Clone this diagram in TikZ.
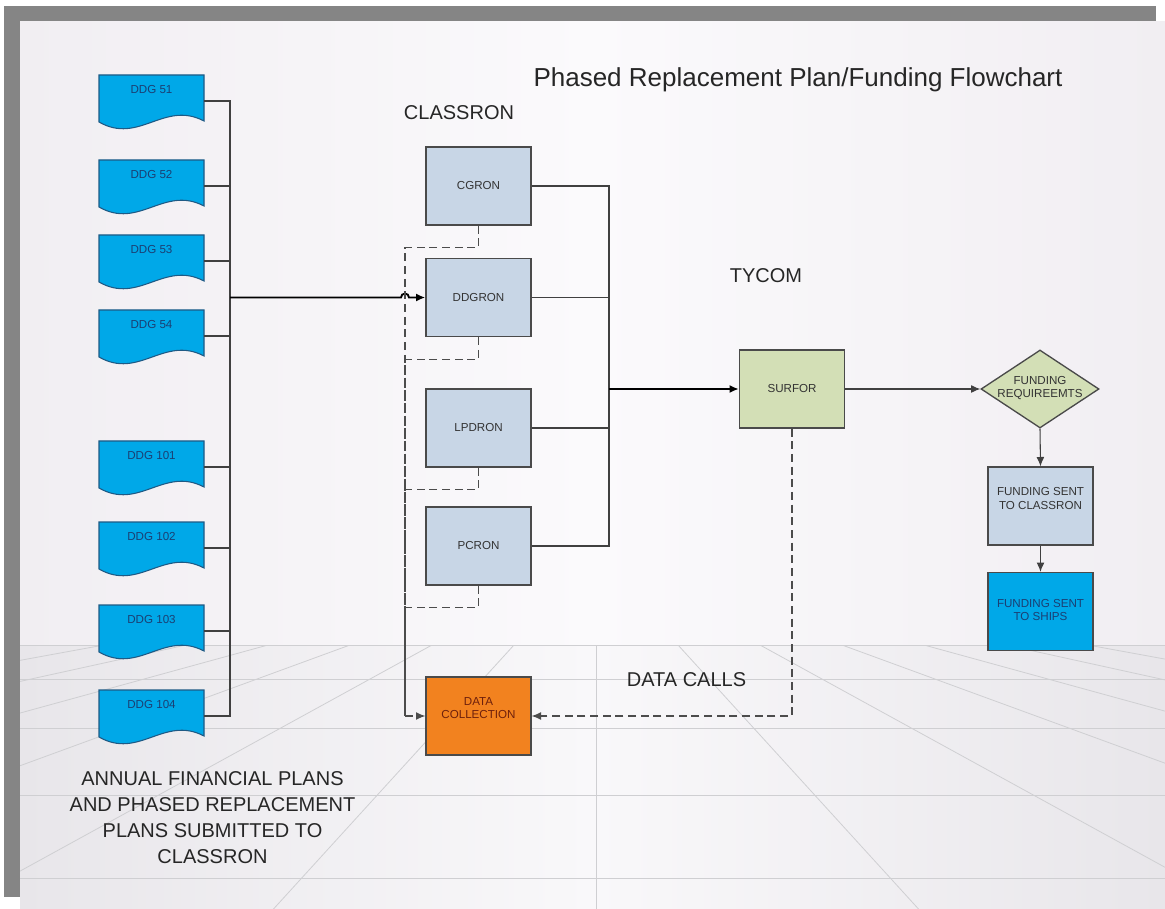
\documentclass[tikz,border=0pt]{standalone}
\usepackage{fontspec}
\setmainfont{Liberation Sans}
\usetikzlibrary{shapes.geometric,arrows.meta}
\def\px{0.75pt}
\definecolor{framecol}{HTML}{858585}
\definecolor{docblue}{HTML}{00A8E8}
\definecolor{docline}{HTML}{1E5A85}
\definecolor{navy}{HTML}{1B3F73}
\definecolor{ronfill}{HTML}{C8D6E6}
\definecolor{grnfill}{HTML}{D3DFB6}
\definecolor{orng}{HTML}{F2821F}
\definecolor{dcbrown}{HTML}{6E200C}
\definecolor{edgecol}{HTML}{4A4A4A}
\definecolor{txtcol}{HTML}{333333}
\definecolor{gridcol}{HTML}{CFCFD2}
\definecolor{bgside}{HTML}{F1EEF2}
\definecolor{bgmid}{HTML}{FBFAFC}
\definecolor{flside}{HTML}{E8E6EA}
\definecolor{flmid}{HTML}{F9F8FA}
\begin{document}
\begin{tikzpicture}[x=0.75pt,y=-0.75pt,
  smallfont/.style={font=\fontsize{8.7pt}{10.4pt}\selectfont},
  box/.style={draw=edgecol, line width=1pt, minimum width=105*\px, minimum height=78*\px, inner sep=0pt, smallfont, text=txtcol, align=center},
  ronbox/.style={box, fill=ronfill},
  grnbox/.style={box, fill=grnfill},
  docbody/.style={fill=docblue, draw=docline, line width=0.8pt},
  docanchor/.style={minimum width=105*\px, minimum height=52*\px, inner sep=0pt},
  doclbl/.style={smallfont, text=navy},
  conn/.style={draw=black!75, line width=0.8pt},
  trunk/.style={draw=black, line width=1.4pt},
  dconn/.style={draw=black!70, line width=0.9pt, dash pattern=on 6pt off 3.5pt},
  arr/.style={-{Latex[length=7pt,width=6pt]}},
  bigfont/.style={font=\fontsize{15pt}{19.5pt}\selectfont, text=black!85},
]
\useasboundingbox (0,0) rectangle (1165,909);
% background
\fill[white] (0,0) rectangle (1165,909);
\fill[framecol] (4,6) rectangle (1156,22);
\fill[framecol] (4,6) rectangle (20,897);
\shade[left color=bgside, right color=bgside, middle color=bgmid] (20,22) rectangle (1165,645);
\shade[left color=flside, right color=flside, middle color=flmid] (20,645) rectangle (1165,909);
\begin{scope}
  \clip (20,645) rectangle (1165,909);
  \foreach \k in {-7,...,7} \draw[gridcol, line width=0.6pt] ({596+82*\k},645) -- ({596+322.5*\k},909);
  \foreach \yy in {645,679,728,795,878} \draw[gridcol, line width=0.6pt] (20,\yy) -- (1165,\yy);
\end{scope}
% documents
\foreach \n/\t in {51/75,52/160,53/235,54/310,101/441,102/522,103/605,104/690}{
  \path[docbody] (99,\t) -- (204,\t) -- (204,\t+46) .. controls (164,\t+25) and (139,\t+70) .. (99,\t+47) -- cycle;
  \node[docanchor] (d\n) at (151.5,\t+26) {};
  \node[doclbl] (l\n) at (151.5,\t+15) {DDG \n};
}
% boxes
\node[ronbox] (cgron) at (478.5,186) {CGRON};
\node[ronbox] (ddgron) at (478.5,297.5) {DDGRON};
\node[ronbox] (lpdron) at (478.5,428) {LPDRON};
\node[ronbox] (pcron) at (478.5,546) {PCRON};
\node[box, fill=orng] (dcol) at (478.5,716) {};
\node[smallfont, text=dcbrown, align=center] (dcolt) at (478.5,708) {DATA\\COLLECTION};
\node[grnbox] (surfor) at (792,389) {SURFOR};
\node[diamond, draw=edgecol, line width=1pt, fill=grnfill, minimum width=118*\px, minimum height=78*\px, inner sep=0pt] (req) at (1040,389) {};
\node[smallfont, text=txtcol, align=center] (reqt) at (1040,388) {FUNDING\\REQUIREEMTS};
\node[ronbox] (fsc) at (1040.5,506) {};
\node[smallfont, text=txtcol, align=center] (fsct) at (1040.5,498.5) {FUNDING SENT\\TO CLASSRON};
\node[box, fill=docblue] (fss) at (1040.5,611.5) {};
\node[smallfont, text=navy, align=center] (fsst) at (1040.5,610) {FUNDING SENT\\TO SHIPS};
% labels
\node[font=\fontsize{19.5pt}{23pt}\selectfont, text=black!85, anchor=base] (title) at (798,87) {Phased Replacement Plan/Funding Flowchart};
\node[bigfont, anchor=base] (classron) at (459,120) {CLASSRON};
\node[bigfont, anchor=base] (tycom) at (766,283) {TYCOM};
\node[bigfont, anchor=base] (datacalls) at (686.5,686) {DATA CALLS};
\node[bigfont, align=center] (plans) at (212.5,818) {ANNUAL FINANCIAL PLANS\\AND PHASED REPLACEMENT\\PLANS SUBMITTED TO\\CLASSRON};
% connectors
\coordinate (jL) at (230,297.5);
\coordinate (jR) at (609,389);
\coordinate (jD) at (405,716);
\foreach \n in {51,52,53,54,101,102,103,104} \draw[conn] (d\n.east) -| (jL);
\draw[trunk, arr] (jL) -- (401,297.5) arc[start angle=180, end angle=360, radius=4] -- (ddgron.west);
\foreach \n in {cgron,ddgron,lpdron,pcron} \draw[conn] (\n.east) -| (jR);
\draw[trunk, arr] (jR) -- (surfor.west);
\foreach \n in {cgron,ddgron,lpdron,pcron} \draw[dconn] (\n.south) -- ++(0,22) -| (jD);
\draw[dconn, arr] (jD) -- (dcol.west);
\draw[dconn, arr] (surfor.south) |- (dcol.east);
\draw[conn, arr] (surfor.east) -- (req.west);
\draw[conn, arr] (req.south) -- (fsc.north);
\draw[conn, arr] (fsc.south) -- (fss.north);
\end{tikzpicture}
\end{document}
